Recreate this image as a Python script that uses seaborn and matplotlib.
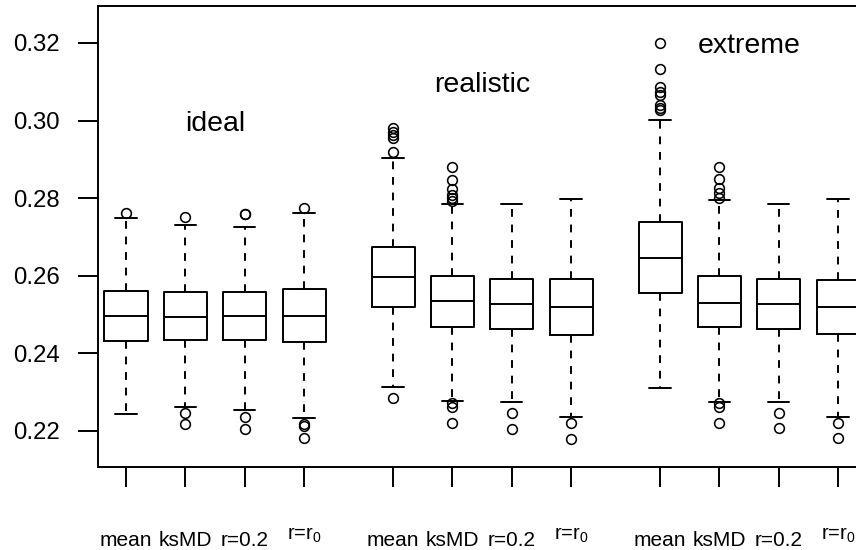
import matplotlib
matplotlib.use("Agg")
import matplotlib.pyplot as plt
import matplotlib.transforms as mtransforms
import seaborn as sns

# ---------------- data ----------------
groups = ["ideal", "realistic", "extreme"]
methods = ["mean", "ksMD", "r=0.2", "r=r$_0$"]

whislo = [0.2244, 0.2263, 0.2254, 0.2233,
          0.2314, 0.2277, 0.2276, 0.2237,
          0.2310, 0.2276, 0.2276, 0.2237]
q1 = [0.2432, 0.2435, 0.2435, 0.2429,
      0.2520, 0.2469, 0.2463, 0.2447,
      0.2556, 0.2469, 0.2462, 0.2449]
med = [0.2496, 0.2495, 0.2496, 0.2496,
       0.2596, 0.2535, 0.2527, 0.2519,
       0.2647, 0.2531, 0.2527, 0.2519]
q3 = [0.2561, 0.2559, 0.2559, 0.2566,
      0.2675, 0.2599, 0.2593, 0.2591,
      0.2739, 0.2599, 0.2593, 0.2589]
whishi = [0.2748, 0.2731, 0.2725, 0.2761,
          0.2904, 0.2785, 0.2784, 0.2797,
          0.3001, 0.2795, 0.2785, 0.2797]
fliers = [
    [0.2763],
    [0.2752, 0.2246, 0.2218],
    [0.2759, 0.2760, 0.2237, 0.2204],
    [0.2774, 0.2218, 0.2213, 0.2181],
    [0.2920, 0.2954, 0.2963, 0.2971, 0.2980, 0.2284],
    [0.2793, 0.2800, 0.2808, 0.2823, 0.2847, 0.2881, 0.2271, 0.2263, 0.2221],
    [0.2247, 0.2204],
    [0.2221, 0.2180],
    [0.3027, 0.3032, 0.3040, 0.3066, 0.3074, 0.3087, 0.3133, 0.3199],
    [0.2800, 0.2813, 0.2825, 0.2849, 0.2881, 0.2271, 0.2263, 0.2220],
    [0.2246, 0.2207],
    [0.2221, 0.2183],
]
yticks = [0.22, 0.24, 0.26, 0.28, 0.30, 0.32]

# ---------------- style ----------------
sns.set_style("ticks")
plt.rcParams["font.family"] = ["Liberation Sans", "DejaVu Sans"]
plt.rcParams["mathtext.default"] = "regular"
plt.rcParams["mathtext.fontset"] = "custom"
plt.rcParams["mathtext.rm"] = "Liberation Sans"

# positions: 4 boxes per group, gap of 1.5 between groups
positions = []
for g in range(len(groups)):
    for m in range(len(methods)):
        positions.append(1 + g * 4.5 + m)

stats = []
for i in range(len(med)):
    stats.append(dict(med=med[i], q1=q1[i], q3=q3[i],
                      whislo=whislo[i], whishi=whishi[i],
                      fliers=fliers[i]))

fig = plt.figure(figsize=(8.56, 5.5), dpi=100)
ax = fig.add_axes([98 / 856, 83 / 550, 769.7 / 856, 461 / 550])

lw = 1.4
ax.bxp(stats, positions=positions, widths=0.725, capwidths=0.36,
       boxprops=dict(color="black", lw=lw),
       whiskerprops=dict(color="black", lw=lw, linestyle=(0, (4, 4))),
       capprops=dict(color="black", lw=lw),
       medianprops=dict(color="black", lw=lw),
       flierprops=dict(marker="o", markerfacecolor="none",
                       markeredgecolor="black", markersize=7,
                       markeredgewidth=1.15, linestyle="none"),
       manage_ticks=False)

ax.set_xlim(0.528, 13.5)
ax.set_ylim(0.21072, 0.32953)

ax.set_yticks(yticks)
ax.set_yticklabels([f"{v:.2f}" for v in yticks])
ax.set_xticks(positions)
ax.set_xticklabels(methods * len(groups))

ax.tick_params(axis="both", direction="out", length=14.4, width=lw,
               color="black", labelcolor="black")
ax.tick_params(axis="x", pad=31.5, labelsize=15)
ax.tick_params(axis="y", pad=13, labelsize=17.3)

for name, sp in ax.spines.items():
    sp.set_linewidth(lw)
    sp.set_color("black")
ax.spines["right"].set_visible(False)
ax.grid(False)

# the r=r0 labels are a little smaller and sit higher, as in the reference
for i, lab in enumerate(ax.get_xticklabels()):
    if i % 4 == 3:
        lab.set_fontsize(14.5)
        lab.set_transform(lab.get_transform() +
                          mtransforms.ScaledTranslation(0, 3.5 / 72, fig.dpi_scale_trans))

# group titles
group_text_y = [0.2973, 0.3074, 0.3173]
for g, name in enumerate(groups):
    cx = sum(positions[g * 4:(g + 1) * 4]) / 4
    ax.text(cx, group_text_y[g], name, ha="center", va="baseline",
            fontsize=20.5, color="black")

fig.savefig("out.png", dpi=100)
